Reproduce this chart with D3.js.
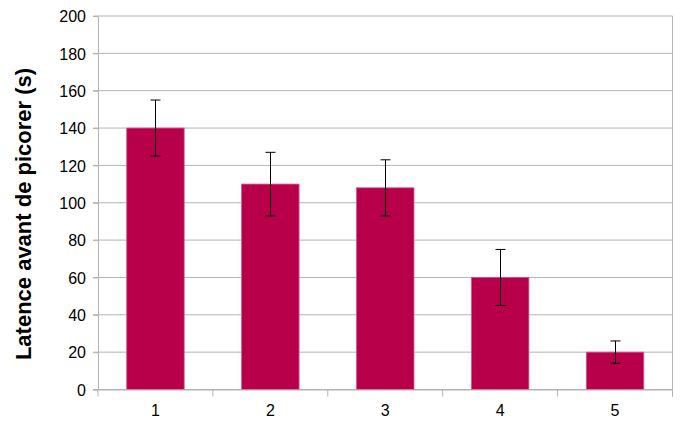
<!DOCTYPE html>
<html><head><meta charset="utf-8">
<script src="https://cdn.jsdelivr.net/npm/d3@7"></script>
<style>body{margin:0;background:#fff}svg{display:block}</style>
</head><body>
<svg id="c" width="680" height="423"></svg>
<script>
const categories = ["1","2","3","4","5"];
const values = [140,110,108,60,20];
const errPlus = [15,17,15,15,6];
const errMinus = [15,17,15,15,6];
const yTicks = [0,20,40,60,80,100,120,140,160,180,200];

const svg = d3.select("#c");
const m = {l:98, r:672.5, t:16, b:389.5};
const x = d3.scaleBand().domain(categories).range([m.l,m.r]).paddingInner(0.5).paddingOuter(0.25);
const y = d3.scaleLinear().domain([0,200]).range([m.b,m.t]);
const font = "'Liberation Sans', Arial, sans-serif";
const grid = "#b3b3b3";

// gridlines
svg.append("g").selectAll("line").data(yTicks).join("line")
  .attr("x1",m.l-5).attr("x2",m.r).attr("y1",d=>y(d)).attr("y2",d=>y(d))
  .attr("stroke",grid).attr("stroke-width",1);
// right border
svg.append("line").attr("x1",m.r).attr("x2",m.r).attr("y1",m.t).attr("y2",m.b+7).attr("stroke",grid);

// bars
svg.append("g").selectAll("rect").data(values).join("rect")
  .attr("x",(d,i)=>x(categories[i])).attr("width",x.bandwidth())
  .attr("y",d=>y(d)).attr("height",d=>y(0)-y(d))
  .attr("fill","#b8004a").attr("stroke","#d8548a").attr("stroke-width",0.8);

// axes
const yAxis = svg.append("g").attr("transform",`translate(${m.l},0)`)
  .call(d3.axisLeft(y).tickValues(yTicks).tickSize(5).tickPadding(7));
const step = x.step();
const xb = categories.map((c,i)=>m.l+i*step);
xb.push(m.r);
svg.append("g").selectAll("line").data(xb).join("line")
  .attr("x1",d=>d).attr("x2",d=>d).attr("y1",m.b).attr("y2",m.b+7).attr("stroke",grid);
const xAxis = svg.append("g").attr("transform",`translate(0,${m.b})`)
  .call(d3.axisBottom(x).tickSize(0).tickPadding(15));
[yAxis,xAxis].forEach(g=>{
  g.select(".domain").attr("stroke",grid);
  g.selectAll(".tick line").attr("stroke",grid);
  g.selectAll("text").attr("font-family",font).attr("font-size",16).attr("fill","#000");
});
yAxis.selectAll("text").attr("dy","0.36em");
xAxis.selectAll("text").attr("dy","0.71em");

// error bars
const eb = svg.append("g").attr("stroke","#000").attr("stroke-width",1);
values.forEach((v,i)=>{
  const cx = Math.round(x(categories[i])+x.bandwidth()/2)+0.5;
  const y1 = y(v+errPlus[i]), y2 = y(v-errMinus[i]);
  eb.append("line").attr("x1",cx).attr("x2",cx).attr("y1",y1).attr("y2",y2);
  eb.append("line").attr("x1",cx-5).attr("x2",cx+5).attr("y1",y1).attr("y2",y1);
  eb.append("line").attr("x1",cx-5).attr("x2",cx+5).attr("y1",y2).attr("y2",y2);
});

// y label
svg.append("text").attr("transform","translate(31,214) rotate(-90)")
  .attr("text-anchor","middle").attr("font-family",font).attr("font-weight","bold")
  .attr("font-size",22).attr("fill","#000").text("Latence avant de picorer (s)");
</script>
</body></html>
